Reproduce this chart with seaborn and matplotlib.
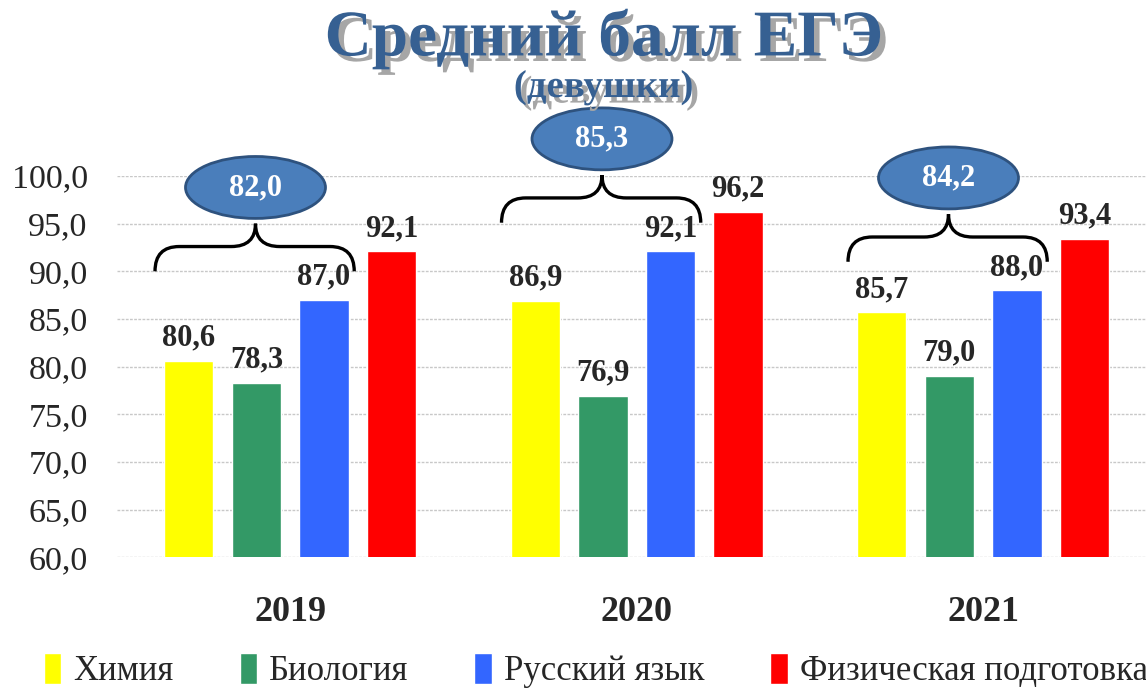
import numpy as np
import pandas as pd
import matplotlib
matplotlib.use('Agg')
import matplotlib.pyplot as plt
import matplotlib.patheffects as pe
from matplotlib.patches import Ellipse, PathPatch
from matplotlib.path import Path
from matplotlib.ticker import FuncFormatter
import seaborn as sns

# data
years = ['2019', '2020', '2021']
subjects = ['Химия', 'Биология', 'Русский язык', 'Физическая подготовка']
khimiya = [80.6, 86.9, 85.7]
biologiya = [78.3, 76.9, 79.0]
russkiy = [87.0, 92.1, 88.0]
fizkultura = [92.1, 96.2, 93.4]
averages = [82.0, 85.3, 84.2]
colors = ['#FFFF00', '#339966', '#3366FF', '#FF0000']

df = pd.DataFrame({
    'year': years * 4,
    'subject': np.repeat(subjects, len(years)),
    'score': khimiya + biologiya + russkiy + fizkultura,
})

sns.set_theme(style='white')
plt.rcParams['font.family'] = ['Liberation Serif', 'DejaVu Serif']


def comma(v):
    return f'{v:.1f}'.replace('.', ',')


fig = plt.figure(figsize=(11.46, 6.93), dpi=100)
ax = fig.add_axes([0.102, 0.196, 0.898, 0.55])

sns.barplot(data=df, x='year', y='score', hue='subject', palette=colors,
            saturation=1, width=0.78, gap=0.27, ax=ax)

ax.set_ylim(60, 100)
ax.set_xlim(-0.5, 2.47)
ax.set_yticks(np.arange(60, 101, 5))
ax.yaxis.set_major_formatter(FuncFormatter(lambda v, p: comma(v)))
ax.tick_params(axis='y', length=0, pad=21, labelsize=24.5)
ax.tick_params(axis='x', length=0, pad=28, labelsize=26)
for lab in ax.get_xticklabels():
    lab.set_fontweight('bold')
ax.set_xlabel('')
ax.set_ylabel('')
sns.despine(left=True, bottom=True)
ax.grid(axis='y', color='#c8c8c8', lw=1, ls=(0, (2, 1)))
ax.set_axisbelow(True)

for cont in ax.containers:
    ax.bar_label(cont, labels=[comma(b.get_height()) for b in cont],
                 padding=6, fontsize=22, fontweight='bold')

# braces + ellipses with average values
for i, (blue, avg) in enumerate(zip(russkiy, averages)):
    xl, xr, xc = i - 0.39, i + 0.185, i - 0.10
    yt = blue + 3.0
    yl = yt + 2.6
    yc = yt + 5.0
    r = 0.07
    verts = [(xl, yt), (xl, yl), (xl + r, yl),
             (xc - r, yl), (xc, yl), (xc, yc),
             (xc, yl), (xc + r, yl),
             (xr - r, yl), (xr, yl), (xr, yt)]
    codes = [Path.MOVETO, Path.CURVE3, Path.CURVE3,
             Path.LINETO, Path.CURVE3, Path.CURVE3,
             Path.CURVE3, Path.CURVE3,
             Path.LINETO, Path.CURVE3, Path.CURVE3]
    ax.add_patch(PathPatch(Path(verts, codes), fill=False, lw=2.4,
                           edgecolor='black', clip_on=False, zorder=5))
    ey = yt + 8.8
    ax.add_patch(Ellipse((xc, ey), 0.404, 6.5, facecolor='#4A7EBB',
                         edgecolor='#2E527E', lw=2, clip_on=False, zorder=6))
    ax.text(xc, ey, comma(avg), color='white', fontsize=22, fontweight='bold',
            ha='center', va='center', zorder=7)

# legend
handles, labels = ax.get_legend_handles_labels()
ax.get_legend().remove()
fig.legend(handles, labels, loc='lower center', ncol=4, frameon=False,
           fontsize=25, handlelength=0.5, handleheight=1.0, handletextpad=0.35,
           columnspacing=1.9, bbox_to_anchor=(0.52, -0.038))

# title with shadow
shadow = [pe.withSimplePatchShadow(offset=(4, -4), shadow_rgbFace='#a6a6a6', alpha=1)]
fig.text(0.527, 0.92, 'Средний балл ЕГЭ', ha='center', va='baseline',
         fontsize=47, fontweight='bold', color='#366092', path_effects=shadow)
fig.text(0.527, 0.86, '(девушки)', ha='center', va='baseline',
         fontsize=28, fontweight='bold', color='#366092', path_effects=shadow)

fig.savefig('out.png', dpi=100)
